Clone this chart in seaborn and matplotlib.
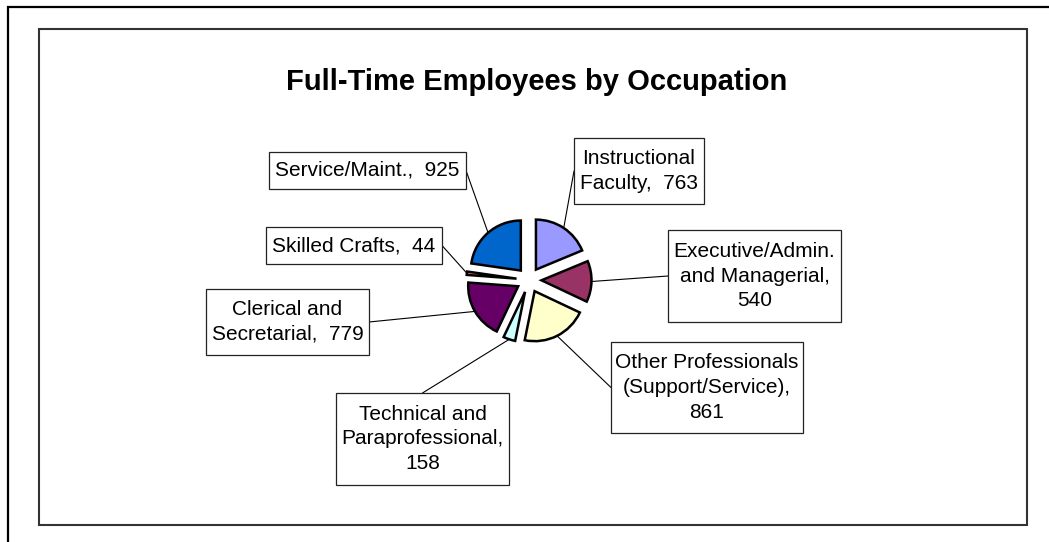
import matplotlib
matplotlib.use("Agg")
import matplotlib.pyplot as plt
from matplotlib.patches import Rectangle
import numpy as np
import seaborn as sns

# ---- data -------------------------------------------------------------
categories = ["Instructional Faculty", "Executive/Admin. and Managerial",
              "Other Professionals (Support/Service)", "Technical and Paraprofessional",
              "Clerical and Secretarial", "Skilled Crafts", "Service/Maint."]
label_templates = ["Instructional\nFaculty,  {v}",
                   "Executive/Admin.\nand Managerial,\n{v}",
                   "Other Professionals\n(Support/Service),\n{v}",
                   "Technical and\nParaprofessional,\n{v}",
                   "Clerical and\nSecretarial,  {v}",
                   "Skilled Crafts,  {v}",
                   "Service/Maint.,  {v}"]
values = [763, 540, 861, 158, 779, 44, 925]
colors = ["#9999FF", "#993366", "#FFFFCC", "#CCFFFF", "#660066", "#FF8080", "#0066CC"]
title = "Full-Time Employees by Occupation"

# ---- layout (pixels, y measured from top) -----------------------------
W, H = 1049, 542
box_rects = [(574, 138, 704, 204), (668, 230, 841, 322), (611, 342, 803, 433),
             (336, 393, 509, 485), (206, 289, 369, 355), (266, 227, 442, 264),
             (269, 152, 466, 189)]
box_side = ["left", "left", "left", "top", "right", "right", "right"]

sns.set_theme(style="white")
plt.rcParams["font.family"] = ["Liberation Sans", "DejaVu Sans"]

fig = plt.figure(figsize=(W / 100, H / 100), dpi=100)
ax = fig.add_axes([0, 0, 1, 1])


def py(y):
    return H - y


center = (529, py(280))
radius = 50
explode = [0.25 * radius] * len(values)
wedges, _ = ax.pie(values, colors=colors, startangle=90, counterclock=False,
                   radius=radius, center=center, explode=explode,
                   wedgeprops=dict(edgecolor="black", linewidth=1.8),
                   frame=False)
for w in wedges:
    w.set_zorder(5)

ax.set_xlim(0, W)
ax.set_ylim(0, H)
ax.set_aspect("equal")
ax.set_axis_off()

# frames
ax.add_patch(Rectangle((39, py(525)), 1027 - 39, 525 - 29, fill=False,
                       ec="#333333", lw=1.5, zorder=1))
ax.plot([7.5, 7.5, W], [0, py(7), py(7)], color="black", lw=1.6, zorder=1,
        solid_joinstyle="miter")

# title
ax.text(536.5, py(90), title, ha="center", va="baseline", fontsize=21,
        fontweight="bold", color="black")

# labels + leader lines
for w, tmpl, v, (l, t, r, b), side in zip(wedges, label_templates, values,
                                          box_rects, box_side):
    thm = np.deg2rad(0.5 * (w.theta1 + w.theta2))
    sx = w.center[0] + w.r * np.cos(thm)
    sy = w.center[1] + w.r * np.sin(thm)
    if side == "left":
        ax_, ay_ = l, (t + b) / 2
    elif side == "right":
        ax_, ay_ = r, (t + b) / 2
    else:
        ax_, ay_ = (l + r) / 2, t
    ax.plot([sx, ax_], [sy, py(ay_)], color="black", lw=0.8, zorder=2)
    ax.add_patch(Rectangle((l, py(b)), r - l, b - t, fc="white", ec="#222222",
                           lw=0.9, zorder=3))
    ax.text((l + r) / 2, py((t + b) / 2), tmpl.format(v=v), ha="center",
            va="center", fontsize=15, linespacing=1.38, color="black", zorder=4)

fig.savefig("out.png", dpi=100, facecolor="white")
